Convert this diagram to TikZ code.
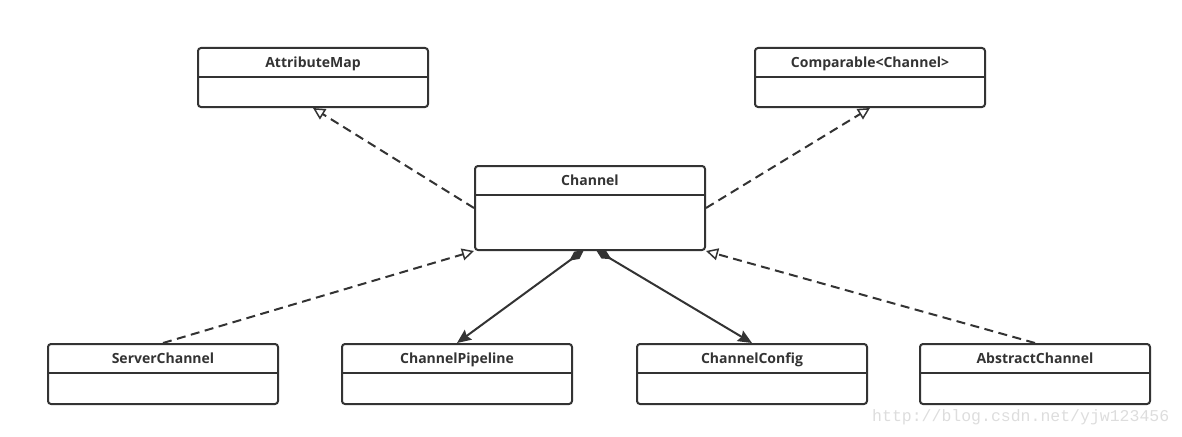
\documentclass[tikz,border=0pt]{standalone}
\usepackage{fontspec}
\usetikzlibrary{arrows.meta}
\newfontfamily\uifont{Open Sans}
\newfontfamily\wmfont{Liberation Mono}
\definecolor{ink}{HTML}{333333}
\definecolor{wm}{HTML}{DDDDDD}
\tikzset{
  cls/.style={draw=ink, line width=2pt, rounded corners=3pt, minimum width=230pt, fill=white, inner sep=0pt},
  title/.style={font=\uifont\bfseries\fontsize{14}{16}\selectfont, text=ink, inner sep=0pt, anchor=base},
  divider/.style={draw=ink, line width=2pt},
  realize/.style={draw=ink, line width=2pt, dash pattern=on 9pt off 5.5pt, -{Triangle[open, fill=white, length=12pt, width=12pt, line width=1.5pt]}},
  comp/.style={draw=ink, line width=2pt, {Diamond[length=18pt, width=9pt]}-{Stealth[length=14pt, width=12pt, inset=2pt]}},
}
\begin{document}
\begin{tikzpicture}[x=1pt,y=-1pt]
\useasboundingbox (0,0) rectangle (1182,436);
% class boxes
\node[cls, minimum height=59pt] (am) at (313,77.5) {};
\node[cls, minimum height=59pt] (cmp) at (870,77.5) {};
\node[cls, minimum height=84pt] (ch) at (590,208) {};
\node[cls, minimum height=60pt] (sc) at (163,374) {};
\node[cls, minimum height=60pt] (cp) at (457,374) {};
\node[cls, minimum height=60pt] (cc) at (752,374) {};
\node[cls, minimum height=60pt] (ac) at (1035,374) {};
% dividers and titles
\foreach \n/\t in {am/AttributeMap, cmp/Comparable<Channel>, ch/Channel, sc/ServerChannel, cp/ChannelPipeline, cc/ChannelConfig, ac/AbstractChannel}{
  \draw[divider] ([yshift=-30pt]\n.north west) -- ([yshift=-30pt]\n.north east);
  \node[title] (\n-t) at ([yshift=-20pt]\n.north) {\t};
}
% realizations
\draw[realize] (ch.west) -- (am.south);
\draw[realize] (ch.east) -- (cmp.south);
\draw[realize] (sc.north) -- (ch.south west);
\draw[realize] (ac.north) -- (ch.south east);
% compositions
\draw[comp] ([xshift=-6pt,yshift=1pt]ch.south) -- (cp.north);
\draw[comp] ([xshift=6pt,yshift=1pt]ch.south) -- (cc.north);
% watermark
\node[font=\wmfont\fontsize{16.5}{18}\selectfont, text=wm, anchor=base west, inner sep=0pt] (wmk) at (872,421) {http://blog.csdn.net/yjw123456};
\end{tikzpicture}
\end{document}
